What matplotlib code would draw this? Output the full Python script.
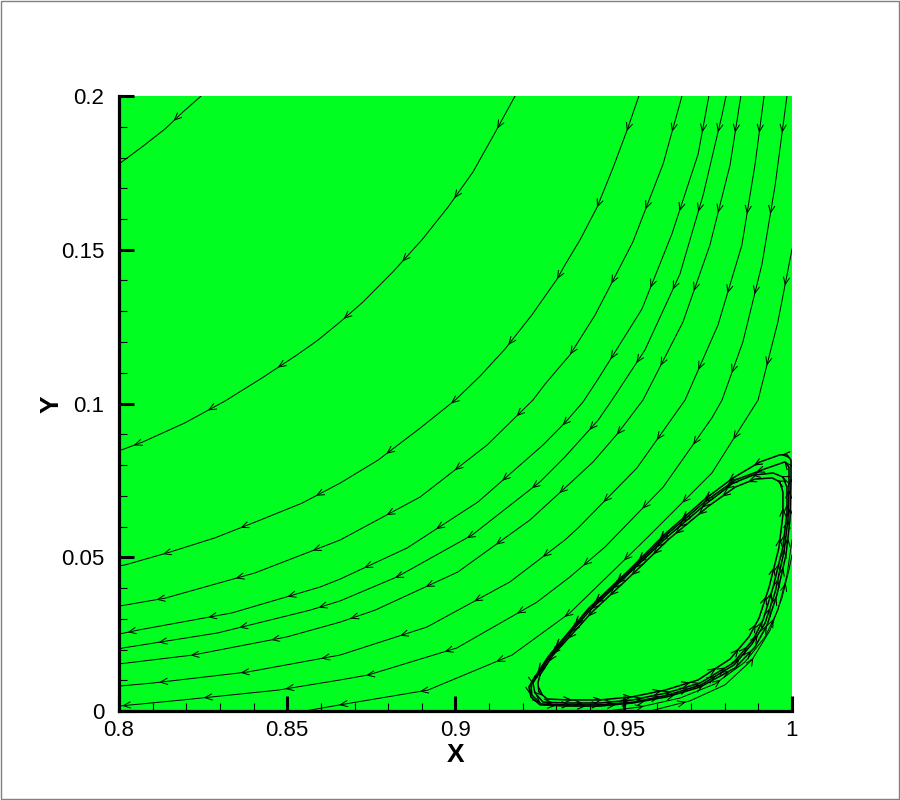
import numpy as np
import matplotlib
matplotlib.use('Agg')
import matplotlib.pyplot as plt
from matplotlib.patches import Rectangle

plt.rcParams['font.family'] = ['Liberation Sans', 'DejaVu Sans']

# ---------------- data ----------------
x_ticks = [0.8, 0.85, 0.9, 0.95, 1.0]
x_tick_labels = ['0.8', '0.85', '0.9', '0.95', '1']
y_ticks = [0.0, 0.05, 0.1, 0.15, 0.2]
y_tick_labels = ['0', '0.05', '0.1', '0.15', '0.2']
x_label = 'X'
y_label = 'Y'

# outer streamlines (ordered in flow direction)
line_a_x = [0.8244, 0.8190, 0.8137, 0.8068, 0.8000]
line_a_y = [0.2000, 0.1948, 0.1893, 0.1834, 0.1779]

line_b_x = [0.9177, 0.9117, 0.9052, 0.8978, 0.8900, 0.8814, 0.8725, 0.8657, 0.8591, 0.8529,
            0.8425, 0.8315, 0.8196, 0.8071, 0.8000]
line_b_y = [0.2000, 0.1880, 0.1753, 0.1639, 0.1532, 0.1428, 0.1330, 0.1265, 0.1206, 0.1158,
            0.1083, 0.1008, 0.0937, 0.0875, 0.0846]

line_c_x = [0.9545, 0.9510, 0.9468, 0.9421, 0.9370, 0.9325, 0.9302, 0.9227, 0.9147, 0.9073,
            0.8999, 0.8895, 0.8770, 0.8657, 0.8544, 0.8413, 0.8285, 0.8152, 0.8018, 0.8000]
line_c_y = [0.2000, 0.1889, 0.1766, 0.1639, 0.1532, 0.1450, 0.1405, 0.1288, 0.1177, 0.1089,
            0.1011, 0.0920, 0.0816, 0.0741, 0.0676, 0.0618, 0.0563, 0.0517, 0.0475, 0.0472]

line_d_x = [0.9673, 0.9617, 0.9527, 0.9415, 0.9340, 0.9266, 0.9230, 0.9094, 0.8895, 0.8657,
            0.8404, 0.8137, 0.8000]
line_d_y = [0.2000, 0.1779, 0.1525, 0.1288, 0.1158, 0.1063, 0.1011, 0.0865, 0.0696, 0.0556,
            0.0449, 0.0367, 0.0341]

line_e_x = [0.9753, 0.9721, 0.9643, 0.9554, 0.9424, 0.9379, 0.9325, 0.9260, 0.9067, 0.8856,
            0.8657, 0.8597, 0.8336, 0.8056, 0.8000]
line_e_y = [0.2000, 0.1811, 0.1551, 0.1307, 0.1080, 0.1005, 0.0937, 0.0865, 0.0680, 0.0530,
            0.0429, 0.0403, 0.0319, 0.0263, 0.0250]

line_f_x = [0.9804, 0.9792, 0.9736, 0.9667, 0.9563, 0.9465, 0.9424, 0.9325, 0.9251, 0.9049,
            0.8826, 0.8657, 0.8568, 0.8294, 0.8012, 0.8000]
line_f_y = [0.2000, 0.1938, 0.1678, 0.1421, 0.1174, 0.1011, 0.0946, 0.0826, 0.0745, 0.0572,
            0.0436, 0.0358, 0.0328, 0.0254, 0.0205, 0.0202]

line_g_x = [0.9848, 0.9816, 0.9756, 0.9676, 0.9557, 0.9483, 0.9409, 0.9325, 0.9221, 0.9007,
            0.8761, 0.8657, 0.8499, 0.8220, 0.8000]
line_g_y = [0.2000, 0.1776, 0.1515, 0.1265, 0.1011, 0.0904, 0.0810, 0.0725, 0.0621, 0.0452,
            0.0328, 0.0289, 0.0241, 0.0182, 0.0153]

line_h_x = [0.9917, 0.9890, 0.9851, 0.9780, 0.9682, 0.9539, 0.9364, 0.9325, 0.9162, 0.8915,
            0.8657, 0.8383, 0.8101, 0.8000]
line_h_y = [0.2000, 0.1776, 0.1515, 0.1255, 0.1011, 0.0790, 0.0595, 0.0556, 0.0420, 0.0273,
            0.0182, 0.0127, 0.0091, 0.0081]

line_i_x = [0.9985, 0.9950, 0.9911, 0.9854, 0.9792, 0.9762, 0.9617, 0.9444, 0.9340, 0.9242,
            0.9004, 0.8740, 0.8657, 0.8473, 0.8190, 0.8000]
line_i_y = [0.2000, 0.1711, 0.1454, 0.1200, 0.1011, 0.0953, 0.0728, 0.0533, 0.0436, 0.0354,
            0.0205, 0.0117, 0.0101, 0.0068, 0.0036, 0.0016]

line_j_x = [1.0000, 0.9958, 0.9899, 0.9762, 0.9572, 0.9340, 0.9168, 0.8918, 0.8657, 0.8553]
line_j_y = [0.1502, 0.1265, 0.1011, 0.0774, 0.0566, 0.0319, 0.0182, 0.0068, 0.0020, 0.0000]

# open lines under the corner eddy (ordered in flow direction)
outer_1_x = [0.9450, 0.9548, 0.9667, 0.9771, 0.9860, 0.9920, 0.9958, 0.9985, 1.0000]
outer_1_y = [0.0000, 0.0013, 0.0042, 0.0088, 0.0159, 0.0241, 0.0328, 0.0442, 0.0556]
outer_2_x = [0.9578, 0.9697, 0.9801, 0.9881, 0.9935, 0.9970, 0.9991, 1.0000]
outer_2_y = [0.0000, 0.0033, 0.0085, 0.0166, 0.0263, 0.0367, 0.0459, 0.0507]

# corner eddy loops (listed from the left tip, against the flow direction)
eddy_1_x = [0.9242, 0.9281, 0.9400, 0.9527, 0.9629, 0.9747, 0.9825, 0.9884, 0.9944, 0.9973,
            0.9985, 0.9985, 0.9973, 0.9944, 0.9914, 0.9884, 0.9825, 0.9727, 0.9629, 0.9527,
            0.9429, 0.9331, 0.9260, 0.9236, 0.9230, 0.9242]
eddy_1_y = [0.0111, 0.0176, 0.0328, 0.0459, 0.0566, 0.0676, 0.0741, 0.0767, 0.0774, 0.0761,
            0.0728, 0.0644, 0.0533, 0.0403, 0.0296, 0.0231, 0.0156, 0.0091, 0.0059, 0.0036,
            0.0026, 0.0026, 0.0029, 0.0059, 0.0091, 0.0111]

eddy_2_x = [0.9230, 0.9275, 0.9394, 0.9522, 0.9623, 0.9741, 0.9825, 0.9905, 0.9964, 0.9985,
            0.9997, 0.9997, 0.9994, 0.9982, 0.9955, 0.9926, 0.9890, 0.9831, 0.9727, 0.9629,
            0.9527, 0.9429, 0.9331, 0.9251, 0.9224, 0.9218, 0.9230]
eddy_2_y = [0.0101, 0.0176, 0.0332, 0.0465, 0.0576, 0.0689, 0.0758, 0.0810, 0.0833, 0.0833,
            0.0816, 0.0751, 0.0621, 0.0507, 0.0377, 0.0280, 0.0208, 0.0140, 0.0078, 0.0046,
            0.0026, 0.0016, 0.0016, 0.0020, 0.0046, 0.0078, 0.0101]

eddy_3_x = [0.9251, 0.9290, 0.9406, 0.9533, 0.9634, 0.9753, 0.9831, 0.9890, 0.9941, 0.9964,
            0.9973, 0.9973, 0.9961, 0.9932, 0.9902, 0.9872, 0.9816, 0.9721, 0.9623, 0.9525,
            0.9429, 0.9334, 0.9272, 0.9248, 0.9245, 0.9251]
eddy_3_y = [0.0117, 0.0182, 0.0322, 0.0452, 0.0559, 0.0667, 0.0728, 0.0754, 0.0758, 0.0745,
            0.0712, 0.0637, 0.0530, 0.0403, 0.0302, 0.0241, 0.0169, 0.0101, 0.0068, 0.0046,
            0.0036, 0.0036, 0.0039, 0.0062, 0.0091, 0.0117]

eddy_4_x = [0.9236, 0.9278, 0.9397, 0.9525, 0.9626, 0.9744, 0.9831, 0.9926, 0.9979, 0.9991,
            0.9991, 0.9988, 0.9976, 0.9950, 0.9920, 0.9881, 0.9828, 0.9730, 0.9632, 0.9530,
            0.9429, 0.9328, 0.9254, 0.9227, 0.9224, 0.9236]
eddy_4_y = [0.0107, 0.0179, 0.0332, 0.0462, 0.0572, 0.0683, 0.0751, 0.0790, 0.0810, 0.0793,
            0.0719, 0.0621, 0.0517, 0.0387, 0.0286, 0.0218, 0.0150, 0.0085, 0.0052, 0.0029,
            0.0020, 0.0020, 0.0023, 0.0052, 0.0085, 0.0107]

outer_lines = [(line_a_x, line_a_y), (line_b_x, line_b_y), (line_c_x, line_c_y),
               (line_d_x, line_d_y), (line_e_x, line_e_y), (line_f_x, line_f_y),
               (line_g_x, line_g_y), (line_h_x, line_h_y), (line_i_x, line_i_y),
               (line_j_x, line_j_y), (outer_1_x, outer_1_y), (outer_2_x, outer_2_y)]
eddy_lines = [(eddy_1_x, eddy_1_y), (eddy_2_x, eddy_2_y),
              (eddy_3_x, eddy_3_y), (eddy_4_x, eddy_4_y)]

# ---------------- figure ----------------
fig = plt.figure(figsize=(9, 8), dpi=100)
fig.patch.set_facecolor('white')
ax = fig.add_axes([119 / 900, 89 / 800, 673 / 900, 615 / 800])
ax.set_facecolor('#00ff20')
ax.set_xlim(0.8, 1.0)
ax.set_ylim(0.0, 0.2)

for side in ('top', 'right'):
    ax.spines[side].set_visible(False)
for side in ('left', 'bottom'):
    ax.spines[side].set_linewidth(2.3)
    ax.spines[side].set_color('black')
    ax.spines[side].set_zorder(5)

ax.set_xticks(x_ticks)
ax.set_xticklabels(x_tick_labels)
ax.set_yticks(y_ticks)
ax.set_yticklabels(y_tick_labels)
ax.set_xticks(np.arange(0.8, 1.0001, 0.01), minor=True)
ax.set_yticks(np.arange(0.0, 0.2001, 0.01), minor=True)
ax.tick_params(which='major', direction='in', length=11, width=2.2, labelsize=16,
               top=False, right=False, color='black')
ax.tick_params(which='minor', direction='in', length=6, width=0.8,
               top=False, right=False, color='black')
ax.tick_params(axis='x', which='major', pad=6.5)
ax.tick_params(axis='y', which='major', pad=10.5)

ax.set_xlabel(x_label, fontsize=19, fontweight='bold')
ax.set_ylabel(y_label, fontsize=19, fontweight='bold')
ax.xaxis.set_label_coords(0.5, -0.0715)
ax.xaxis.label.set_verticalalignment('center')
ax.yaxis.set_label_coords(-0.0996, 0.4992)
ax.yaxis.label.set_verticalalignment('center')
ax.yaxis.label.set_horizontalalignment('center')


def draw_arrows(xs, ys, spacing, offset, L=7.0, W=3.0, lw=0.7):
    P = ax.transData.transform(np.column_stack([xs, ys]))
    seg = np.diff(P, axis=0)
    seglen = np.hypot(seg[:, 0], seg[:, 1])
    cum = np.concatenate([[0.0], np.cumsum(seglen)])
    total = cum[-1]
    inv = ax.transData.inverted()
    s = offset
    while s < total - 2:
        i = int(np.searchsorted(cum, s, side='right') - 1)
        i = min(max(i, 0), len(seglen) - 1)
        if seglen[i] > 0:
            t = seg[i] / seglen[i]
            p = P[i] + t * (s - cum[i])
            n = np.array([-t[1], t[0]])
            pts = inv.transform(np.array([p - L * t + W * n, p, p - L * t - W * n]))
            ax.plot(pts[:, 0], pts[:, 1], color='black', lw=lw, zorder=3)
        s += spacing


for xs, ys in outer_lines:
    ax.plot(xs, ys, color='black', lw=0.7, zorder=3)
    draw_arrows(xs, ys, spacing=82, offset=36)

for k, (xs, ys) in enumerate(eddy_lines):
    xr, yr = xs[::-1], ys[::-1]
    ax.plot(xr, yr, color='black', lw=1.1, zorder=3)
    draw_arrows(xr, yr, spacing=30, offset=8 + 7 * k, lw=0.8)

fig.patches.append(Rectangle((0.0006, 0.0007), 0.9988, 0.9986, transform=fig.transFigure,
                             fill=False, edgecolor='#808080', lw=1.0))

fig.savefig('out.png', dpi=100, facecolor='white')
